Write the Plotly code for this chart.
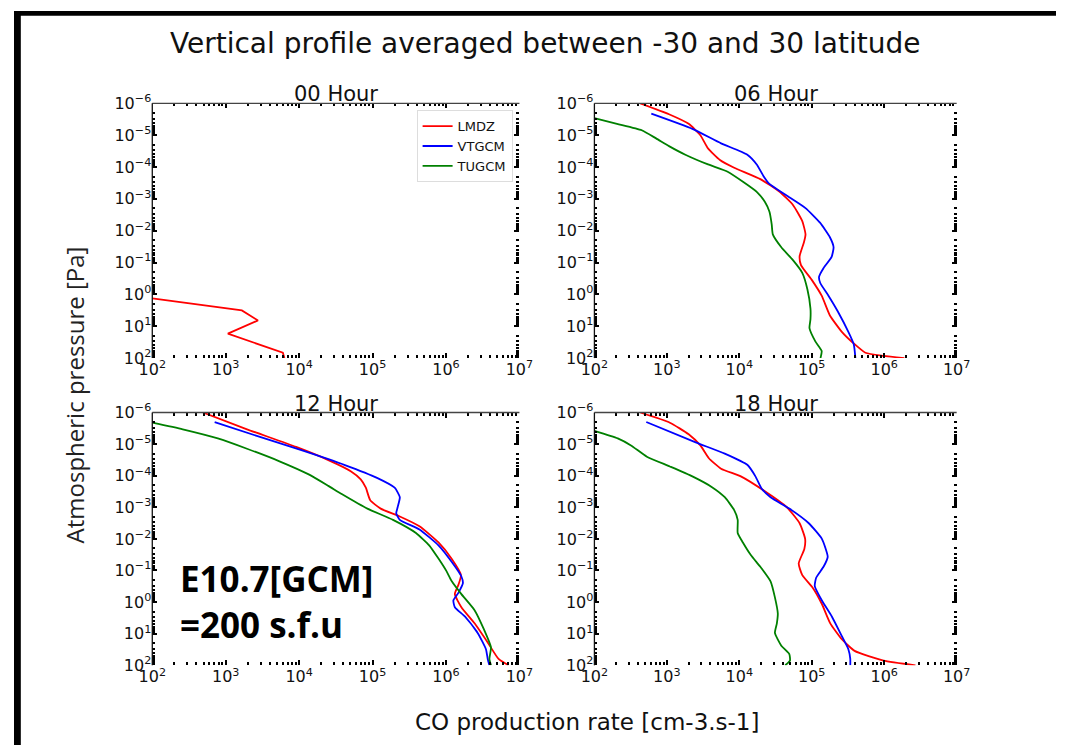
import plotly.graph_objects as go

W, H = 1070, 755

# ---------------- data ----------------
panel_titles = ["00 Hour", "06 Hour", "12 Hour", "18 Hour"]
model_names = ["LMDZ", "VTGCM", "TUGCM"]
model_colors = ["#ff0000", "#0000ff", "#008000"]

# 00 Hour (only LMDZ visible)
lmdz_00_rate = [1.0e2, 1.66e3, 2.75e3, 1.07e3, 6.0e3, 6.3e3]
lmdz_00_pres = [1.34, 3.2, 6.6, 17, 68, 100]

# 06 Hour
lmdz_06_rate = [4.3e2, 1.07e3, 2.0e3, 2.9e3, 3.7e3, 5.4e3, 8.5e3, 1.95e4, 3.6e4, 5.5e4, 7.4e4,
                8.2e4, 7.8e4, 6.8e4, 7.1e4, 1.0e5, 1.37e5, 1.78e5, 2.6e5, 3.7e5, 5.5e5, 9.8e5, 1.9e6]
lmdz_06_pres = [1e-6, 2.2e-6, 4.4e-6, 1e-5, 2.6e-5, 6e-5, 1.05e-4, 2.4e-4, 6e-4, 1.55e-3, 5e-3,
                1.3e-2, 2.3e-2, 6.3e-2, 0.12, 0.35, 1.1, 4.6, 15, 33, 68, 85, 100]
vtgcm_06_rate = [6.1e2, 2.25e3, 5.6e3, 1.29e4, 1.74e4, 2.15e4, 2.6e4, 4.4e4, 8.2e4, 1.3e5, 1.78e5,
                 2.0e5, 1.88e5, 1.45e5, 1.26e5, 1.31e5, 1.7e5, 2.3e5, 3.2e5, 3.8e5, 4.0e5]
vtgcm_06_pres = [2.1e-6, 6.3e-6, 1.8e-5, 4.1e-5, 8.3e-5, 1.9e-4, 3.4e-4, 7.6e-4, 1.95e-3, 5.6e-3, 1.6e-2,
                 3.3e-2, 6.6e-2, 0.15, 0.28, 0.44, 1.1, 3.5, 15, 37, 100]
tugcm_06_rate = [1.0e2, 2.05e2, 4.5e2, 7.1e2, 1.07e3, 1.8e3, 3.7e3, 6.9e3, 1.15e4, 1.74e4, 2.25e4, 2.6e4,
                 2.8e4, 2.9e4, 3.8e4, 5.5e4, 7.4e4, 8.7e4, 9.6e4, 9.6e4, 9.3e4, 1.12e5, 1.37e5, 1.32e5]
tugcm_06_pres = [2.9e-6, 4.4e-6, 7.0e-6, 1.26e-5, 2.2e-5, 4.1e-5, 8.3e-5, 1.4e-4, 3.0e-4, 6.0e-4, 1.23e-3, 2.5e-3,
                 6.3e-3, 1.3e-2, 3.3e-2, 8.4e-2, 0.21, 0.69, 2.8, 6.0, 11.5, 30, 60, 100]

# 12 Hour
lmdz_12_rate = [4.9e2, 1.95e3, 9.1e3, 2.5e4, 5.1e4, 6.9e4, 8.1e4, 9.3e4, 1.29e5, 2.35e5, 4.35e5,
                7.9e5, 1.2e6, 1.6e6, 1.48e6, 1.32e6, 1.62e6, 2.45e6, 3.7e6, 5.2e6, 7.1e6]
lmdz_12_pres = [1e-6, 3.4e-6, 1.23e-5, 3.2e-5, 7.3e-5, 1.3e-4, 2.4e-4, 6.0e-4, 1.1e-3, 1.95e-3, 4.0e-3,
                1.3e-2, 4.3e-2, 0.14, 0.28, 0.56, 1.45, 4.7, 19, 63, 100]
vtgcm_12_rate = [7.07e2, 2.65e3, 1.1e4, 4.2e4, 1.15e5, 2.0e5, 2.35e5, 2.2e5, 2.1e5, 2.35e5, 4.35e5,
                 7.9e5, 1.2e6, 1.62e6, 1.7e6, 1.48e6, 1.26e6, 1.32e6, 1.82e6, 2.7e6, 3.5e6, 3.7e6, 3.9e6]
vtgcm_12_pres = [2.0e-6, 5.5e-6, 1.58e-5, 4.6e-5, 1.17e-4, 2.4e-4, 4.8e-4, 9.8e-4, 1.55e-3, 2.5e-3, 5.0e-3,
                 1.6e-2, 5.4e-2, 0.155, 0.25, 0.50, 0.89, 1.45, 2.9, 9.5, 31, 63, 100]
tugcm_12_rate = [1.0e2, 2.6e2, 7.8e2, 1.95e3, 5.4e3, 1.35e4, 2.5e4, 3.8e4, 8.5e4, 1.9e5, 3.9e5,
                 5.9e5, 7.9e5, 1.02e6, 1.2e6, 1.62e6, 2.45e6, 3.3e6, 4.1e6, 3.9e6, 4.1e6]
tugcm_12_pres = [2.1e-6, 3.4e-6, 6.6e-6, 1.4e-5, 3.5e-5, 9.1e-5, 2.1e-4, 3.8e-4, 1.1e-3, 2.5e-3, 6.5e-3,
                 1.6e-2, 4.2e-2, 0.107, 0.22, 0.56, 1.8, 7.5, 27, 63, 100]

# 18 Hour
lmdz_18_rate = [4.3e2, 1.1e3, 2.0e3, 2.9e3, 3.8e3, 5.6e3, 1.05e4, 2.2e4, 4.5e4, 6.8e4, 8.1e4,
                7.9e4, 6.6e4, 7.4e4, 1.03e5, 1.38e5, 1.8e5, 2.6e5, 3.9e5, 9.8e5, 2.7e6]
lmdz_18_pres = [1e-6, 2.1e-6, 4.9e-6, 1.1e-5, 2.8e-5, 6.0e-5, 1.05e-4, 3.0e-4, 9.8e-4, 3.2e-3, 1.0e-2,
                2.1e-2, 6.0e-2, 0.14, 0.35, 1.15, 4.7, 15, 35, 71, 100]
vtgcm_18_rate = [5.2e2, 2.5e3, 6.3e3, 1.3e4, 1.67e4, 2.04e4, 2.7e4, 4.9e4, 9.1e4, 1.38e5, 1.66e5,
                 1.46e5, 1.15e5, 1.1e5, 1.38e5, 1.9e5, 2.6e5, 3.2e5, 3.4e5, 3.4e5]
vtgcm_18_pres = [2.0e-6, 8.8e-6, 2.0e-5, 4.6e-5, 1.05e-4, 2.6e-4, 4.8e-4, 1.1e-3, 3.2e-3, 1.0e-2, 3.7e-2,
                 7.5e-2, 0.17, 0.31, 0.89, 2.9, 12, 31, 63, 100]
tugcm_18_rate = [1.0e2, 2.1e2, 3.2e2, 5.3e2, 1.1e3, 2.25e3, 4.2e3, 6.3e3, 8.5e3, 9.5e3, 9.5e3, 1.12e4,
                 1.45e4, 1.95e4, 2.7e4, 3.1e4, 3.4e4, 3.3e4, 3.1e4, 3.8e4, 4.9e4, 5.0e4, 4.3e4]
tugcm_18_pres = [3.8e-6, 6.6e-6, 1.1e-5, 2.5e-5, 5.1e-5, 1.05e-4, 2.3e-4, 4.8e-4, 1.23e-3, 2.5e-3, 6.5e-3, 1.3e-2,
                 3.3e-2, 7.6e-2, 0.22, 0.71, 2.3, 4.7, 9.5, 24, 44, 71, 100]

x_tick_vals = [1e2, 1e3, 1e4, 1e5, 1e6, 1e7]
x_tick_text = ["10<sup>2</sup>", "10<sup>3</sup>", "10<sup>4</sup>", "10<sup>5</sup>",
               "10<sup>6</sup>", "10<sup>7</sup>"]
y_tick_vals = [1e-6, 1e-5, 1e-4, 1e-3, 1e-2, 1e-1, 1e0, 1e1, 1e2]
y_tick_text = ["10<sup>−6</sup>", "10<sup>−5</sup>", "10<sup>−4</sup>", "10<sup>−3</sup>",
               "10<sup>−2</sup>", "10<sup>−1</sup>", "10<sup>0</sup>", "10<sup>1</sup>", "10<sup>2</sup>"]

fig_title = "Vertical profile averaged between -30 and 30 latitude"
x_title = "CO production rate [cm-3.s-1]"
y_title = "Atmospheric pressure [Pa]"
note_text = "E10.7[GCM]<br>=200 s.f.u"

# ---------------- layout geometry (pixels) ----------------
col_px = [(142, 519), (596, 968)]
row_px = [(95, 357), (413, 673)]
panel_pos = [(0, 0), (0, 1), (1, 0), (1, 1)]

def fx(px):
    return px / W

def fy(py):
    return 1 - py / H

panel_series = [
    [(lmdz_00_rate, lmdz_00_pres, 0)],
    [(lmdz_06_rate, lmdz_06_pres, 0), (vtgcm_06_rate, vtgcm_06_pres, 1), (tugcm_06_rate, tugcm_06_pres, 2)],
    [(lmdz_12_rate, lmdz_12_pres, 0), (vtgcm_12_rate, vtgcm_12_pres, 1), (tugcm_12_rate, tugcm_12_pres, 2)],
    [(lmdz_18_rate, lmdz_18_pres, 0), (vtgcm_18_rate, vtgcm_18_pres, 1), (tugcm_18_rate, tugcm_18_pres, 2)],
]

fig = go.Figure()
shown = set()
x_minor = [k * 10 ** d for d in range(2, 7) for k in range(2, 10)]
y_minor = [k * 10.0 ** d for d in range(-6, 2) for k in range(2, 10)]

tick_font = dict(family="DejaVu Sans", size=16, color="#111")
annotations = []
shapes = []

for i, (r, c) in enumerate(panel_pos):
    n = i + 1
    xa = "x" if n == 1 else f"x{n}"
    ya = "y" if n == 1 else f"y{n}"
    for rate, pres, m in panel_series[i]:
        line = dict(color=model_colors[m], width=1.8)
        if i > 0:
            line.update(shape="spline", smoothing=0.5)
        fig.add_trace(go.Scatter(
            x=rate, y=pres, mode="lines", name=model_names[m], line=line,
            xaxis=xa, yaxis=ya, legendrank=m + 1,
            showlegend=m not in shown,
        ))
        shown.add(m)
    x0, x1 = col_px[c]
    y0, y1 = row_px[r]
    common = dict(type="log", showgrid=False, zeroline=False, showline=False,
                  ticks="inside", ticklen=5, tickwidth=1.5, tickcolor="#000",
                  mirror="allticks", tickfont=tick_font,
                  minor=dict(ticks="inside", ticklen=3, tickwidth=1.5, tickcolor="#000",
                             showgrid=False))
    xaxis = dict(common, domain=[fx(x0), fx(x1)], range=[2, 7], anchor=ya,
                 tickmode="array", tickvals=x_tick_vals, ticktext=x_tick_text)
    xaxis["minor"] = dict(common["minor"], tickmode="array", tickvals=x_minor)
    yaxis = dict(common, domain=[fy(y1), fy(y0)], range=[2, -6], autorange=False, anchor=xa,
                 tickmode="array", tickvals=y_tick_vals, ticktext=y_tick_text)
    yaxis["minor"] = dict(common["minor"], tickmode="array", tickvals=y_minor)
    fig.update_layout(**{("xaxis" if n == 1 else f"xaxis{n}"): xaxis,
                         ("yaxis" if n == 1 else f"yaxis{n}"): yaxis})
    # spines: top and left solid
    shapes.append(dict(type="line", xref="paper", yref="paper", x0=fx(x0), x1=fx(x1),
                       y0=fy(y0), y1=fy(y0), line=dict(color="#444", width=1.3)))
    shapes.append(dict(type="line", xref="paper", yref="paper", x0=fx(x0), x1=fx(x0),
                       y0=fy(y0), y1=fy(y1), line=dict(color="#111", width=1.3)))
    annotations.append(dict(text=panel_titles[i], xref="paper", yref="paper",
                            x=fx((x0 + x1) / 2), y=fy(y0), xanchor="center", yanchor="bottom",
                            yshift=-5, showarrow=False,
                            font=dict(family="DejaVu Sans", size=21, color="#111")))

annotations += [
    dict(text=fig_title, xref="paper", yref="paper", x=fx(546), y=fy(33), xanchor="center",
         yanchor="middle", showarrow=False, font=dict(family="DejaVu Sans", size=28, color="#111")),
    dict(text=x_title, xref="paper", yref="paper", x=fx(588), y=fy(731), xanchor="center",
         yanchor="middle", showarrow=False, font=dict(family="DejaVu Sans", size=23, color="#111")),
    dict(text=y_title, xref="paper", yref="paper", x=fx(62), y=fy(395), xanchor="center",
         yanchor="middle", textangle=-90, showarrow=False,
         font=dict(family="Open Sans", size=24, color="#222")),
    dict(text=note_text, xref="paper", yref="paper", x=fx(168), y=fy(558), xanchor="left",
         yanchor="top", align="left", showarrow=False,
         font=dict(family="Open Sans", size=35, color="#000", weight="bold")),
]

# black frame edges of the original picture (left and top)
shapes.append(dict(type="rect", xref="paper", yref="paper", x0=0, x1=fx(7), y0=0, y1=1,
                   fillcolor="#000", line=dict(width=0), layer="below"))
shapes.append(dict(type="rect", xref="paper", yref="paper", x0=0, x1=1, y0=fy(5), y1=1,
                   fillcolor="#000", line=dict(width=0), layer="below"))

fig.update_layout(
    width=W, height=H, margin=dict(l=0, r=0, t=0, b=0),
    paper_bgcolor="#fff", plot_bgcolor="rgba(0,0,0,0)",
    annotations=annotations, shapes=shapes,
    legend=dict(x=fx(512), y=fy(102), xanchor="right", yanchor="top",
                bgcolor="#fff", bordercolor="#ddd", borderwidth=1,
                font=dict(family="DejaVu Sans", size=13, color="#111"),
                itemwidth=30, tracegroupgap=2),
    showlegend=True,
)

fig.write_html(
    "out.html",
    post_script="document.body.style.margin='0';document.body.style.padding='0';"
                "document.body.style.overflow='hidden';",
)
